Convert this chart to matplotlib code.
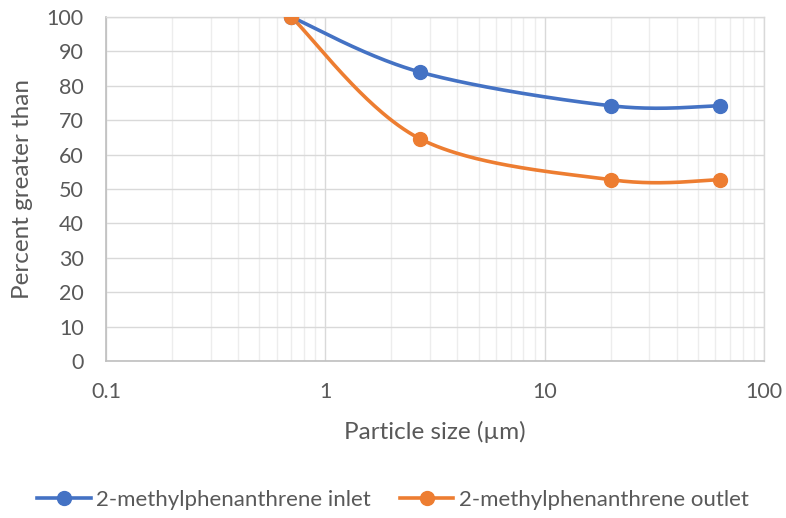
import matplotlib.pyplot as plt
import numpy as np
from matplotlib.ticker import FixedLocator, LogLocator, NullFormatter

plt.rcParams['font.family'] = ['Lato', 'DejaVu Sans']

TEXT_COLOR = '#595959'

particle_size = [0.7, 2.7, 20.0, 63.0]
inlet = [100.0, 84.0, 74.2, 74.2]
outlet = [100.0, 64.6, 52.7, 52.7]
series_names = ['2-methylphenanthrene inlet', '2-methylphenanthrene outlet']
series_colors = ['#4472C4', '#ED7D31']
y_ticks = list(range(0, 101, 10))
x_ticks = [0.1, 1, 10, 100]
x_tick_labels = ['0.1', '1', '10', '100']

AX_W_PX, AX_H_PX = 658.0, 344.0


def smooth_curve(x, y, n=60):
    """Bezier smoothing done in screen space (log x), like spreadsheet smoothed lines."""
    u = (np.log10(x) + 1) / 3 * AX_W_PX
    v = np.asarray(y) / 100 * AX_H_PX
    pts = np.column_stack([u, v])
    out = [pts[0]]
    t = np.linspace(0, 1, n)[1:, None]
    for i in range(len(pts) - 1):
        p_prev = pts[max(i - 1, 0)]
        p0, p1 = pts[i], pts[i + 1]
        p_next = pts[min(i + 2, len(pts) - 1)]
        c1 = p0 + (p1 - p_prev) / 6
        c2 = p1 - (p_next - p0) / 6
        seg = ((1 - t) ** 3) * p0 + 3 * ((1 - t) ** 2) * t * c1 + 3 * (1 - t) * t ** 2 * c2 + t ** 3 * p1
        out.extend(seg)
    out = np.array(out)
    xs = 10 ** (out[:, 0] / AX_W_PX * 3 - 1)
    ys = out[:, 1] / AX_H_PX * 100
    return xs, ys


fig = plt.figure(figsize=(7.86, 5.18), dpi=100)
ax = fig.add_axes([106 / 786, 1 - 361 / 518, 658 / 786, 344 / 518])

for vals, name, color in zip([inlet, outlet], series_names, series_colors):
    sx, sy = smooth_curve(particle_size, vals)
    ax.plot(sx, sy, color=color, lw=2.6, solid_capstyle='round', zorder=3)
    ax.plot(particle_size, vals, 'o', color=color, ms=10, zorder=4)
    ax.plot([], [], '-o', color=color, lw=2.6, ms=10, label=name)

ax.set_xscale('log')
ax.set_xlim(0.1, 100)
ax.set_ylim(0, 100)
ax.xaxis.set_major_locator(FixedLocator(x_ticks))
ax.set_xticklabels(x_tick_labels)
ax.xaxis.set_minor_locator(LogLocator(base=10, subs=np.arange(2, 10)))
ax.xaxis.set_minor_formatter(NullFormatter())
ax.set_yticks(y_ticks)

ax.grid(which='major', color='#D9D9D9', lw=1.0, zorder=0)
ax.grid(which='minor', axis='x', color='#EDEDED', lw=1.0, zorder=0)
ax.set_axisbelow(True)
for side in ['left', 'bottom']:
    ax.spines[side].set_color('#BFBFBF')
    ax.spines[side].set_linewidth(1.2)
for side in ['top', 'right']:
    ax.spines[side].set_color('#D9D9D9')
    ax.spines[side].set_linewidth(1.0)

ax.tick_params(which='both', length=0, colors=TEXT_COLOR, labelsize=15.5)
ax.tick_params(axis='x', pad=15)
ax.tick_params(axis='y', pad=16)

ax.set_xlabel('Particle size (µm)', fontsize=17.5, color=TEXT_COLOR, labelpad=14)
ax.set_ylabel('Percent greater than', fontsize=17.5, color=TEXT_COLOR, labelpad=10)

fig.legend(loc='center', bbox_to_anchor=(0.5, 1 - 500 / 518), ncol=2, frameon=False,
           fontsize=16, labelcolor=TEXT_COLOR, handlelength=2.4, columnspacing=1.3,
           handletextpad=0.25)

fig.savefig('out.png', dpi=100)
